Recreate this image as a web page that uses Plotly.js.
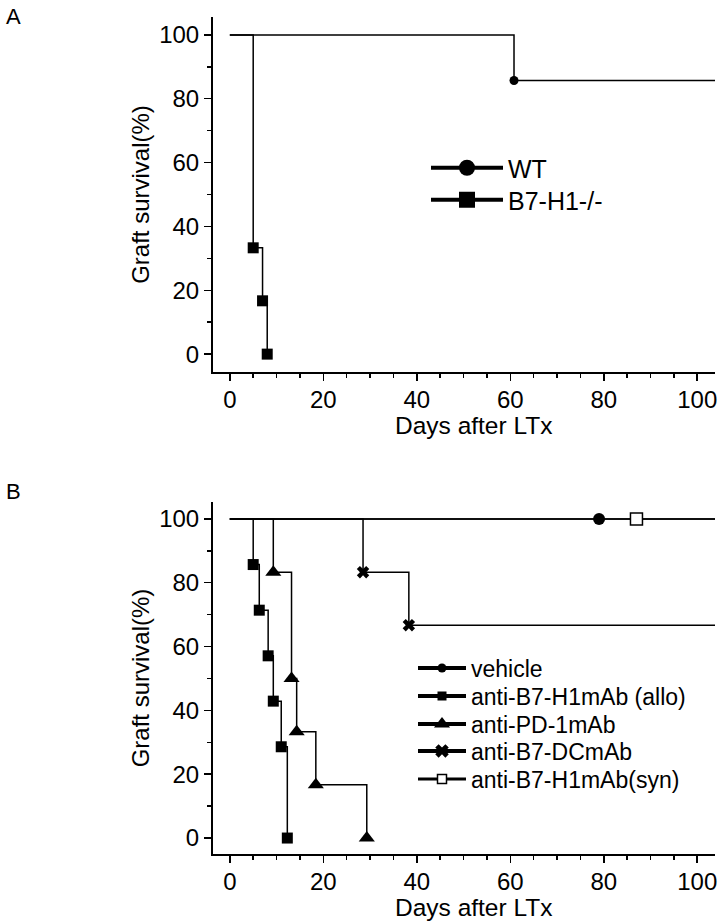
<!DOCTYPE html>
<html>
<head>
<meta charset="utf-8">
<script src="https://cdn.plot.ly/plotly-3.0.1.min.js"></script>
<style>
  html, body { margin: 0; padding: 0; background: #fff; }
  #chart { width: 728px; height: 922px; }
</style>
</head>
<body>
<div id="chart"></div>
<script>
// Panel A: survival (%) vs days after LTx
const wtDays   = [0, 60.8, 104];
const wtSurv   = [100, 85.7, 85.7];
const wtEventDays = [60.8];
const wtEventSurv = [85.7];

const koDays   = [0, 5, 7, 8];
const koSurv   = [100, 33.3, 16.7, 0];
const koEventDays = [5, 7, 8];
const koEventSurv = [33.3, 16.7, 0];

// Panel B
const vehDays = [0, 104];
const vehSurv = [100, 100];
const vehMarkDays = [79];
const vehMarkSurv = [100];

const synDays = [0, 104];
const synSurv = [100, 100];
const synMarkDays = [87];
const synMarkSurv = [100];

const alloDays = [0, 5, 6.3, 8.2, 9.3, 11, 12.3];
const alloSurv = [100, 85.7, 71.4, 57.1, 42.9, 28.6, 0];

const pd1Days = [0, 9.3, 13.2, 14.3, 18.4, 29.3];
const pd1Surv = [100, 83.3, 50, 33.3, 16.7, 0];

const dcDays = [0, 28.5, 38.3, 104];
const dcSurv = [100, 83.3, 66.7, 66.7];

const namesA = ['WT', 'B7-H1-/-'];
const namesB = ['vehicle', 'anti-B7-H1mAb (allo)', 'anti-PD-1mAb', 'anti-B7-DCmAb', 'anti-B7-H1mAb(syn)'];

const font = 'Liberation Sans, Arial, sans-serif';
const W = 728, H = 922;

function stepLine(x, y, xa, ya) {
    return { x: x, y: y, mode: 'lines', line: { shape: 'hv', color: '#000', width: 1.5 },
             xaxis: xa, yaxis: ya, showlegend: false, hoverinfo: 'skip' };
}
function marks(x, y, xa, ya, symbol, size, fill) {
    return { x: x, y: y, mode: 'markers', xaxis: xa, yaxis: ya, showlegend: false,
             marker: { symbol: symbol, size: size, color: fill || '#000',
                       line: { color: '#000', width: fill ? 1.5 : 0 } } };
}
// legend-only entries (thick lines, big markers), one legend box per row
function legendEntry(name, legend, symbol, size, fill, lw) {
    return { x: [null], y: [null], mode: 'lines+markers', name: name, legend: legend,
             line: { color: '#000', width: lw },
             marker: { symbol: symbol, size: size, color: fill || '#000',
                       line: { color: '#000', width: fill ? 1.5 : 0 } } };
}

let traces = [
    stepLine(wtDays, wtSurv, 'x', 'y'),
    stepLine(koDays, koSurv, 'x', 'y'),
    marks(wtEventDays, wtEventSurv, 'x', 'y', 'circle', 9),
    marks(koEventDays, koEventSurv, 'x', 'y', 'square', 11),

    stepLine(vehDays, vehSurv, 'x2', 'y2'),
    stepLine(synDays, synSurv, 'x2', 'y2'),
    stepLine(alloDays, alloSurv, 'x2', 'y2'),
    stepLine(pd1Days, pd1Surv, 'x2', 'y2'),
    stepLine(dcDays, dcSurv, 'x2', 'y2'),
    marks(vehMarkDays, vehMarkSurv, 'x2', 'y2', 'circle', 12),
    marks(synMarkDays, synMarkSurv, 'x2', 'y2', 'square', 12, '#fff'),
    marks(alloDays.slice(1), alloSurv.slice(1), 'x2', 'y2', 'square', 11),
    marks(pd1Days.slice(1), pd1Surv.slice(1), 'x2', 'y2', 'triangle-up', 14),
    marks(dcDays.slice(1, 3), dcSurv.slice(1, 3), 'x2', 'y2', 'x', 11),

    legendEntry(namesA[0], 'legend', 'circle', 16, null, 4),
    legendEntry(namesA[1], 'legend2', 'square', 16, null, 4),

    legendEntry(namesB[0], 'legend3', 'circle', 9, null, 4),
    legendEntry(namesB[1], 'legend4', 'square', 9, null, 4),
    legendEntry(namesB[2], 'legend5', 'triangle-up', 14, null, 4),
    legendEntry(namesB[3], 'legend6', 'x', 12, null, 4),
    legendEntry(namesB[4], 'legend7', 'square', 9, '#fff', 3)
];

function xAxis(anchor) {
    return {
        domain: [213 / W, 715 / W], anchor: anchor, range: [-3.6, 103.8],
        showline: true, linewidth: 2, linecolor: '#000', showgrid: false, zeroline: false,
        ticks: 'outside', ticklen: 7, tickwidth: 1.5, tickcolor: '#000', dtick: 20, tick0: 0,
        minor: { dtick: 5, ticks: 'outside', ticklen: 4, tickwidth: 1.5, tickcolor: '#000', showgrid: false },
        tickfont: { family: font, size: 24, color: '#000' },
        ticklabelstandoff: -2,
        automargin: false
    };
}
function yAxis(anchor, top, bottom, range) {
    return {
        domain: [1 - bottom / H, 1 - top / H], anchor: anchor, range: range,
        showline: true, linewidth: 2, linecolor: '#000', showgrid: false, zeroline: false,
        ticks: 'outside', ticklen: 7, tickwidth: 1.5, tickcolor: '#000', dtick: 20, tick0: 0,
        minor: { dtick: 10, ticks: 'outside', ticklen: 4, tickwidth: 1.5, tickcolor: '#000', showgrid: false },
        tickfont: { family: font, size: 24, color: '#000' },
        title: { text: 'Graft survival(%)', font: { family: font, size: 24, color: '#000' }, standoff: 3 },
        automargin: false
    };
}
function rowLegend(xPx, yPx, size, itemwidth) {
    return {
        x: xPx / W, y: 1 - yPx / H, xanchor: 'left', yanchor: 'middle',
        bgcolor: 'rgba(0,0,0,0)', font: { family: font, size: size, color: '#000' },
        itemwidth: itemwidth, tracegroupgap: 0
    };
}
function label(text, xPx, yPx, size, anchor) {
    return { text: text, xref: 'paper', yref: 'paper', x: xPx / W, y: 1 - yPx / H,
             xanchor: anchor, yanchor: 'middle', showarrow: false,
             font: { family: font, size: size, color: '#000' } };
}

let layout = {
    width: W, height: H,
    margin: { l: 0, r: 0, t: 0, b: 0, pad: 0 },
    paper_bgcolor: '#fff', plot_bgcolor: '#fff',
    font: { family: font, color: '#000' },
    xaxis: xAxis('y'),
    yaxis: yAxis('x', 17, 372, [-5.6, 105.6]),
    xaxis2: xAxis('y2'),
    yaxis2: yAxis('x2', 502, 854, [-5.0, 105.3]),
    legend:  rowLegend(426, 168, 25, 72),
    legend2: rowLegend(426, 200, 25, 72),
    legend3: rowLegend(413, 668, 23, 48),
    legend4: rowLegend(413, 696, 23, 48),
    legend5: rowLegend(413, 724, 23, 48),
    legend6: rowLegend(413, 751, 23, 48),
    legend7: rowLegend(413, 779, 23, 48),
    annotations: [
        label('Days after LTx', 473, 425, 24.5, 'center'),
        label('Days after LTx', 473, 907, 24.5, 'center'),
        label('A', 4, 16, 22, 'left'),
        label('B', 4, 491, 22, 'left')
    ]
};

Plotly.newPlot(document.querySelector('#chart'), traces, layout, { staticPlot: true });
</script>
</body>
</html>
